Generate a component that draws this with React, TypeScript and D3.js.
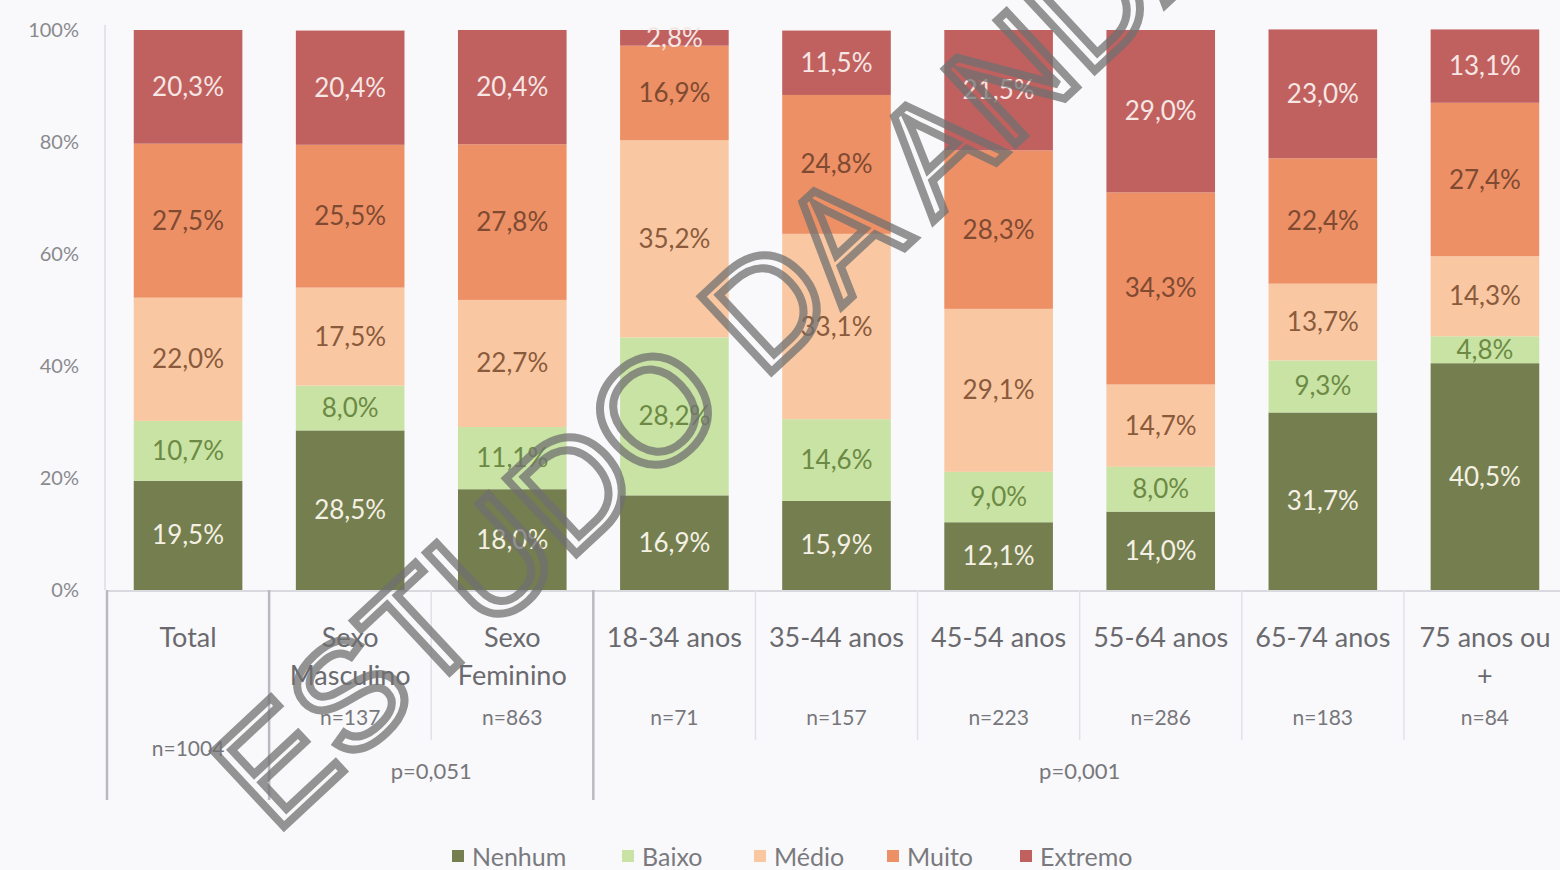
import React from "react";
import * as d3 from "d3";

const categories = ["Total", "Sexo Masculino", "Sexo Feminino", "18-34 anos", "35-44 anos", "45-54 anos", "55-64 anos", "65-74 anos", "75 anos ou +"];
const categoryLines = [["Total"], ["Sexo", "Masculino"], ["Sexo", "Feminino"], ["18-34 anos"], ["35-44 anos"], ["45-54 anos"], ["55-64 anos"], ["65-74 anos"], ["75 anos ou", "+"]];
const nLabels = ["n=1004", "n=137", "n=863", "n=71", "n=157", "n=223", "n=286", "n=183", "n=84"];
const seriesNames = ["Nenhum", "Baixo", "Médio", "Muito", "Extremo"];
const nenhum = [19.5, 28.5, 18.0, 16.9, 15.9, 12.1, 14.0, 31.7, 40.5];
const baixo = [10.7, 8.0, 11.1, 28.2, 14.6, 9.0, 8.0, 9.3, 4.8];
const medio = [22.0, 17.5, 22.7, 35.2, 33.1, 29.1, 14.7, 13.7, 14.3];
const muito = [27.5, 25.5, 27.8, 16.9, 24.8, 28.3, 34.3, 22.4, 27.4];
const extremo = [20.3, 20.4, 20.4, 2.8, 11.5, 21.5, 29.0, 23.0, 13.1];
const yTicks = [0, 20, 40, 60, 80, 100];
const groups = [
  { label: "", from: 0, to: 0 },
  { label: "p=0,051", from: 1, to: 2 },
  { label: "p=0,001", from: 3, to: 8 },
];

const colors = ["#757e4f", "#c8e3a3", "#f9c8a2", "#ee9065", "#c0615f"];
const textColors = ["#f4f1e4", "#6d8a45", "#8a5a3c", "#7e4a32", "#f6e6e4"];

export default function App() {
  const W = 1560, H = 870;
  const table = categories.map((c, i) => ({
    cat: c,
    Nenhum: nenhum[i], Baixo: baixo[i], "Médio": medio[i], Muito: muito[i], Extremo: extremo[i],
  }));
  const stack = d3.stack<any>().keys(seriesNames)(table);
  const x = d3.scaleBand().domain(categories).range([107, 1566]).paddingInner(0.33).paddingOuter(0.165);
  const y = d3.scaleLinear().domain([0, 100]).range([590, 30]);
  const step = x.step();
  const left = (i: number) => (x(categories[i]) as number) - (step - x.bandwidth()) / 2;
  const fmt = (v: number) => v.toFixed(1).replace(".", ",") + "%";
  const font = "Lato, 'Open Sans', sans-serif";

  return (
    <svg width={W} height={H} style={{ position: "absolute", left: 0, top: 0, background: "#f9f9fc" }}>
      <rect x={0} y={0} width={W} height={H} fill="#f9f9fc" />
      {/* y axis */}
      <line x1={105} x2={105} y1={y(100) - 5} y2={y(0)} stroke="#e2e4ea" strokeWidth={2} />
      {yTicks.map((t) => (
        <text key={t} x={79} y={y(t) + 7} textAnchor="end" fontFamily={font} fontSize={20} fill="#8a8a8e">
          {t + "%"}
        </text>
      ))}
      {/* bars */}
      {stack.map((s, si) => (
        <g key={s.key}>
          {s.map((d, i) => {
            const x0 = x(categories[i]) as number;
            const y1 = y(d[1]);
            const y0 = y(d[0]);
            return (
              <g key={i}>
                <rect x={x0} y={y1} width={x.bandwidth()} height={y0 - y1} fill={colors[si]} />
                <text x={x0 + x.bandwidth() / 2} y={(y0 + y1) / 2 + 9} textAnchor="middle" fontFamily={font} fontSize={26} fill={textColors[si]}>
                  {fmt(d[1] - d[0])}
                </text>
              </g>
            );
          })}
        </g>
      ))}
      {/* table lines */}
      <line x1={107} x2={W} y1={y(0) + 1} y2={y(0) + 1} stroke="#d8dae0" strokeWidth={2} />
      {categories.map((c, i) => {
        const isGroupStart = i === 0 || i === 1 || i === 3;
        return (
          <line key={c} x1={left(i)} x2={left(i)} y1={y(0)} y2={isGroupStart ? 800 : 740} stroke={isGroupStart ? "#b8bac0" : "#e0e2e8"} strokeWidth={isGroupStart ? 2.5 : 1.5} />
        );
      })}
      {categoryLines.map((lines, i) => {
        const cx = (x(categories[i]) as number) + x.bandwidth() / 2;
        return (
          <g key={i}>
            {lines.map((l, li) => (
              <text key={li} x={cx} y={647 + li * 38} textAnchor="middle" fontFamily={font} fontSize={27} fill="#6a6a6e">
                {l}
              </text>
            ))}
            <text x={cx} y={i === 0 ? 756 : 725} textAnchor="middle" fontFamily={font} fontSize={21} fill="#77777b">
              {nLabels[i]}
            </text>
          </g>
        );
      })}
      {groups.filter((g) => g.label).map((g) => {
        const cx = (left(g.from) + left(g.to) + step) / 2;
        return (
          <text key={g.label} x={cx} y={779} textAnchor="middle" fontFamily={font} fontSize={22} fill="#77777b">
            {g.label}
          </text>
        );
      })}
      {/* legend */}
      {seriesNames.map((s, i) => {
        const lx = [452, 622, 754, 887, 1020][i];
        return (
          <g key={s}>
            <rect x={lx} y={850} width={12} height={12} fill={colors[i]} />
            <text x={lx + 20} y={866} fontFamily={font} fontSize={25} fill="#7a7a7e">
              {s}
            </text>
          </g>
        );
      })}
      {/* watermark */}
      <text x={275} y={835} transform="rotate(-43 275 835)" fontFamily="'Liberation Sans', Arial, sans-serif" fontSize={150} fill="none" stroke="#707070" strokeWidth={8} strokeOpacity={0.75}>
        ESTUDO DA ANDAR
      </text>
    </svg>
  );
}
